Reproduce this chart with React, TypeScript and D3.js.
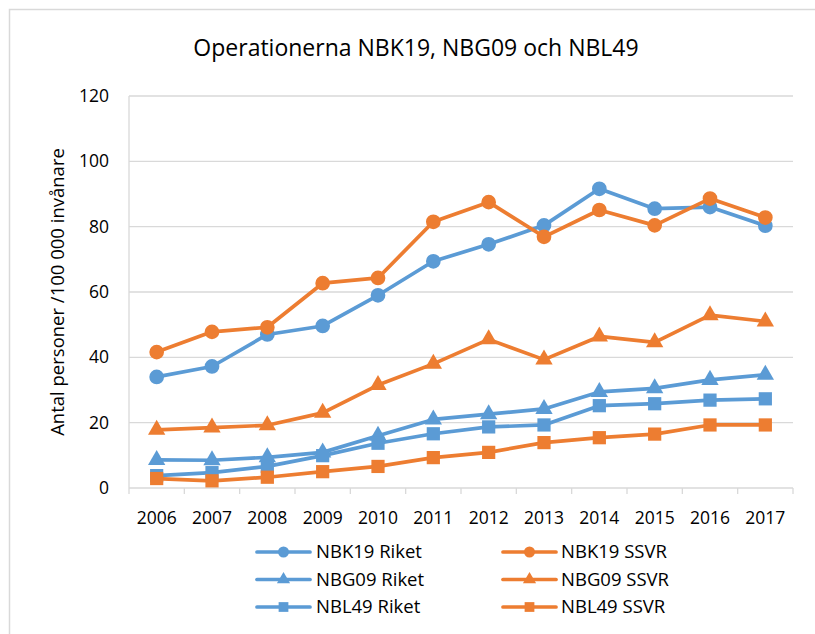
import * as d3 from 'd3';

const years = ['2006', '2007', '2008', '2009', '2010', '2011', '2012', '2013', '2014', '2015', '2016', '2017'];
const yTicks = [0, 20, 40, 60, 80, 100, 120];

const nbk19Riket = [34, 37.2, 47, 49.6, 59, 69.4, 74.6, 80.4, 91.6, 85.5, 86, 80.3];
const nbk19Ssvr = [41.6, 47.8, 49.2, 62.7, 64.3, 81.5, 87.5, 76.9, 85.1, 80.4, 88.6, 82.8];
const nbg09Riket = [8.6, 8.5, 9.4, 10.9, 16, 21, 22.6, 24.2, 29.4, 30.5, 33.1, 34.7];
const nbg09Ssvr = [17.8, 18.5, 19.2, 23, 31.5, 38, 45.5, 39.3, 46.4, 44.6, 52.9, 51];
const nbl49Riket = [3.8, 4.7, 6.6, 9.9, 13.7, 16.6, 18.7, 19.3, 25.2, 25.8, 26.9, 27.3];
const nbl49Ssvr = [2.9, 2.2, 3.3, 5, 6.6, 9.3, 10.9, 13.9, 15.4, 16.5, 19.3, 19.3];

const BLUE = '#5b9bd5';
const ORANGE = '#ed7d31';

const series = [
  { name: 'NBK19 Riket', values: nbk19Riket, color: BLUE, shape: 'circle' },
  { name: 'NBK19 SSVR', values: nbk19Ssvr, color: ORANGE, shape: 'circle' },
  { name: 'NBG09 Riket', values: nbg09Riket, color: BLUE, shape: 'triangle' },
  { name: 'NBG09 SSVR', values: nbg09Ssvr, color: ORANGE, shape: 'triangle' },
  { name: 'NBL49 Riket', values: nbl49Riket, color: BLUE, shape: 'square' },
  { name: 'NBL49 SSVR', values: nbl49Ssvr, color: ORANGE, shape: 'square' },
];

const width = 815;
const height = 634;
const margin = { top: 96, right: 22, bottom: 146, left: 129 };
const font = '"Open Sans", sans-serif';

const symbolType = (shape: string) =>
  shape === 'circle' ? d3.symbolCircle : shape === 'triangle' ? d3.symbolTriangle : d3.symbolSquare;

const Marker = ({ shape, color, x, y, size }: { shape: string; color: string; x: number; y: number; size: number }) => {
  const path = d3.symbol().type(symbolType(shape)).size(size)();
  return <path d={path || ''} transform={`translate(${x},${y})`} fill={color} />;
};

const App = () => {
  const x = d3
    .scaleBand()
    .domain(years)
    .range([margin.left, width - margin.right]);

  const y = d3
    .scaleLinear()
    .domain([0, 120])
    .range([height - margin.bottom, margin.top]);

  const line = d3
    .line<number>()
    .x((_, i) => (x(years[i]) as number) + x.bandwidth() / 2)
    .y((d) => y(d));

  const bottom = height - margin.bottom;
  const boundaries = years.map((yr) => x(yr) as number).concat([width - margin.right]);

  const legendRows = [0, 1, 2];
  const legendCols = [
    { lineX: 257, textX: 316 },
    { lineX: 503, textX: 561 },
  ];

  return (
    <svg width={width} height={height} style={{ position: 'absolute', left: 0, top: 0, background: '#fff' }}>
      <rect x={9.5} y={9.5} width={width} height={height} fill="#fff" stroke="#d9d9d9" strokeWidth={1.5} />

      <text x={416} y={56} textAnchor="middle" fontFamily={font} fontSize={23} fill="#000">
        Operationerna NBK19, NBG09 och NBL49
      </text>

      {/* grid */}
      {yTicks.map((t) => (
        <line key={t} x1={margin.left} x2={width - margin.right} y1={y(t)} y2={y(t)} stroke="#d9d9d9" strokeWidth={1.3} />
      ))}
      <line x1={margin.left} x2={margin.left} y1={margin.top} y2={bottom} stroke="#d9d9d9" strokeWidth={1.3} />
      {boundaries.map((b, i) => (
        <line key={i} x1={b} x2={b} y1={bottom} y2={bottom + 6} stroke="#d9d9d9" strokeWidth={1.3} />
      ))}

      {yTicks.map((t) => (
        <text key={t} x={109} y={y(t)} dy="0.35em" textAnchor="end" fontFamily={font} fontSize={17.5} fill="#000">
          {t}
        </text>
      ))}
      {years.map((yr) => (
        <text
          key={yr}
          x={(x(yr) as number) + x.bandwidth() / 2}
          y={524}
          textAnchor="middle"
          fontFamily={font}
          fontSize={17.5}
          fill="#000"
        >
          {yr}
        </text>
      ))}

      <text
        transform={`translate(64,${(margin.top + bottom) / 2}) rotate(-90)`}
        textAnchor="middle"
        fontFamily={font}
        fontSize={18.5}
        fill="#000"
      >
        Antal personer /100 000 invånare
      </text>

      {series.map((s) => (
        <g key={s.name}>
          <path d={line(s.values) || ''} fill="none" stroke={s.color} strokeWidth={3.7} strokeLinejoin="round" />
          {s.values.map((v, i) => (
            <Marker
              key={i}
              shape={s.shape}
              color={s.color}
              x={(x(years[i]) as number) + x.bandwidth() / 2}
              y={y(v)}
              size={s.shape === 'circle' ? 170 : s.shape === 'triangle' ? 130 : 175}
            />
          ))}
        </g>
      ))}

      {/* legend */}
      {series.map((s, i) => {
        const row = legendRows[Math.floor(i / 2)];
        const col = legendCols[i % 2];
        const ly = 552 + row * 27.5;
        return (
          <g key={s.name}>
            <line x1={col.lineX} x2={col.lineX + 53} y1={ly} y2={ly} stroke={s.color} strokeWidth={3.7} strokeLinecap="round" />
            <Marker shape={s.shape} color={s.color} x={col.lineX + 26.5} y={ly} size={s.shape === 'triangle' ? 75 : 95} />
            <text x={col.textX} y={ly} dy="0.35em" fontFamily={font} fontSize={18.5} fill="#000">
              {s.name}
            </text>
          </g>
        );
      })}
    </svg>
  );
};

export default App;
